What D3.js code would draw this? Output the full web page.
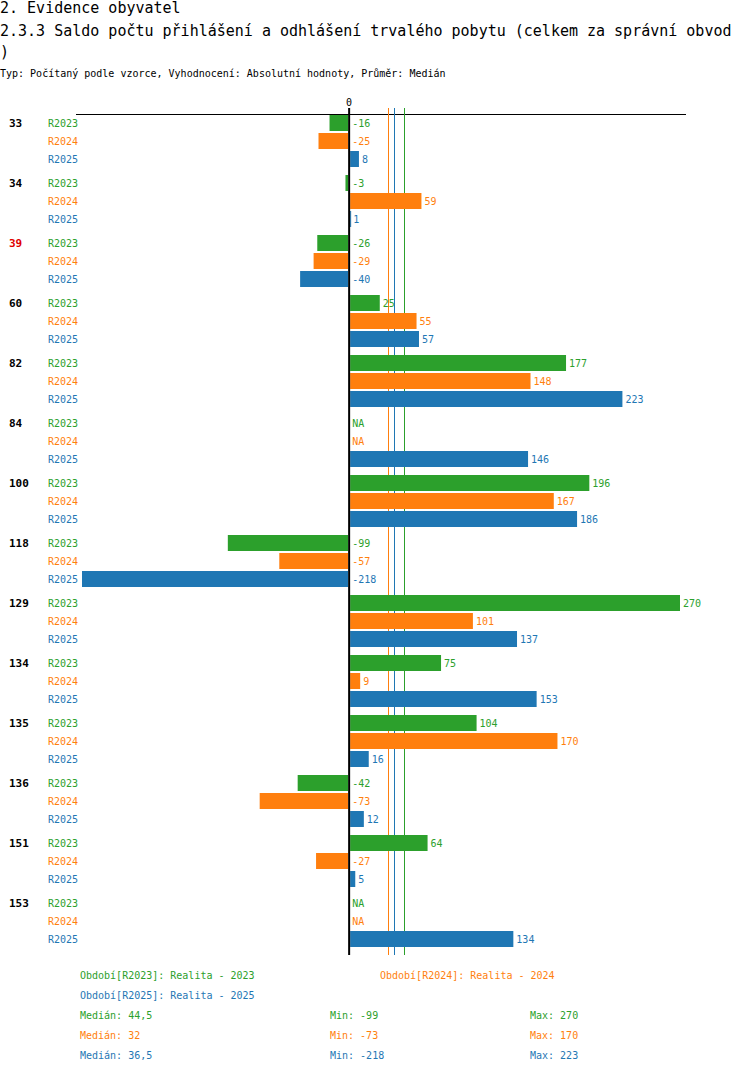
<!DOCTYPE html>
<html>
<head>
<meta charset="utf-8">
<script src="https://cdn.jsdelivr.net/npm/d3@7"></script>
<style>
  body { margin: 0; background: #fff; }
  text { font-family: "DejaVu Sans Mono", monospace; }
</style>
</head>
<body>
<svg id="chart" width="750" height="1074"></svg>
<script>
// data
const groups = ["33", "34", "39", "60", "82", "84", "100", "118", "129", "134", "135", "136", "151", "153"];
const highlighted = ["39"];
const series = ["R2023", "R2024", "R2025"];
const colors = ["#2ca02c", "#ff7f0e", "#1f77b4"];
const values2023 = [-16, -3, -26, 25, 177, null, 196, -99, 270, 75, 104, -42, 64, null];
const values2024 = [-25, 59, -29, 55, 148, null, 167, -57, 101, 9, 170, -73, -27, null];
const values2025 = [8, 1, -40, 57, 223, 146, 186, -218, 137, 153, 16, 12, 5, 134];
const medians = [44.5, 32, 36.5];
const medianLabels = ["44,5", "32", "36,5"];
const mins = [-99, -73, -218];
const maxs = [270, 170, 223];
const legendTexts = ["Období[R2023]: Realita - 2023", "Období[R2024]: Realita - 2024", "Období[R2025]: Realita - 2025"];

const allValues = [values2023, values2024, values2025];
const rows = [];
groups.forEach((g, i) => {
    series.forEach((s, j) => {
        rows.push({ group: g, series: s, si: j, value: allValues[j][i] });
    });
});

const svg = d3.select("#chart");

// titles
svg.append("text").attr("x", 0).attr("y", 13).attr("font-size", 15).text("2. Evidence obyvatel");
svg.append("text").attr("x", 0).attr("y", 36).attr("font-size", 15)
    .text("2.3.3 Saldo počtu přihlášení a odhlášení trvalého pobytu (celkem za správní obvod");
svg.append("text").attr("x", 0).attr("y", 57).attr("font-size", 15).text(")");
svg.append("text").attr("x", 0).attr("y", 77).attr("font-size", 10)
    .text("Typ: Počítaný podle vzorce, Vyhodnocení: Absolutní hodnoty, Průměr: Medián");

// scales
const x = d3.scaleLinear().domain([-218, 270]).range([82, 680]);
const yGroup = d3.scaleBand().domain(groups).range([114, 954]);
const ySeries = d3.scaleBand().domain(series).range([0, 54]);
const rowY = d => yGroup(d.group) + ySeries(d.series);
const rowMid = d => rowY(d) + ySeries.bandwidth() / 2;

// top axis line and zero label
svg.append("line")
    .attr("x1", 76).attr("x2", 686)
    .attr("y1", 114.5).attr("y2", 114.5)
    .attr("stroke", "#000").attr("stroke-width", 1);
svg.append("text")
    .attr("x", x(0)).attr("y", 106)
    .attr("text-anchor", "middle").attr("font-size", 10)
    .text("0");

// median lines
svg.append("g").selectAll("line")
    .data(medians)
    .join("line")
    .attr("x1", d => Math.round(x(d)) + 0.5)
    .attr("x2", d => Math.round(x(d)) + 0.5)
    .attr("y1", 108).attr("y2", 955)
    .attr("stroke", (d, i) => colors[i])
    .attr("stroke-width", 1);

// bars
svg.append("g").selectAll("rect")
    .data(rows.filter(d => d.value !== null))
    .join("rect")
    .attr("x", d => d.value < 0 ? x(d.value) : x(0) + 1)
    .attr("y", d => rowY(d) + 1)
    .attr("width", d => Math.max(1, Math.abs(x(d.value) - x(0)) - 1))
    .attr("height", ySeries.bandwidth() - 2)
    .attr("fill", d => colors[d.si]);

// zero line
svg.append("line")
    .attr("x1", x(0)).attr("x2", x(0))
    .attr("y1", 108).attr("y2", 955)
    .attr("stroke", "#000").attr("stroke-width", 2);

// value labels
svg.append("g").selectAll("text")
    .data(rows)
    .join("text")
    .attr("x", d => d.value !== null && d.value > 0 ? x(d.value) + 3 : x(0) + 3)
    .attr("y", d => rowMid(d))
    .attr("dy", "0.35em")
    .attr("font-size", 10)
    .attr("fill", d => colors[d.si])
    .text(d => d.value === null ? "NA" : d.value);

// series labels
svg.append("g").selectAll("text")
    .data(rows)
    .join("text")
    .attr("x", 48)
    .attr("y", d => rowMid(d))
    .attr("dy", "0.35em")
    .attr("font-size", 10)
    .attr("fill", d => colors[d.si])
    .text(d => d.series);

// group labels
svg.append("g").selectAll("text")
    .data(groups)
    .join("text")
    .attr("x", 9)
    .attr("y", d => yGroup(d) + ySeries.bandwidth() / 2)
    .attr("dy", "0.35em")
    .attr("font-size", 11)
    .attr("font-weight", "bold")
    .attr("fill", d => highlighted.includes(d) ? "#e00000" : "#000")
    .text(d => d);

// legend
const legendPos = [[80, 979], [380, 979], [80, 999]];
svg.append("g").selectAll("text")
    .data(legendTexts)
    .join("text")
    .attr("x", (d, i) => legendPos[i][0])
    .attr("y", (d, i) => legendPos[i][1])
    .attr("font-size", 10)
    .attr("fill", (d, i) => colors[i])
    .text(d => d);

// stats
series.forEach((s, i) => {
    const yy = 1019 + i * 20;
    const g = svg.append("g").attr("fill", colors[i]).attr("font-size", 10);
    g.append("text").attr("x", 80).attr("y", yy).text("Medián: " + medianLabels[i]);
    g.append("text").attr("x", 330).attr("y", yy).text("Min: " + mins[i]);
    g.append("text").attr("x", 530).attr("y", yy).text("Max: " + maxs[i]);
});
</script>
</body>
</html>
